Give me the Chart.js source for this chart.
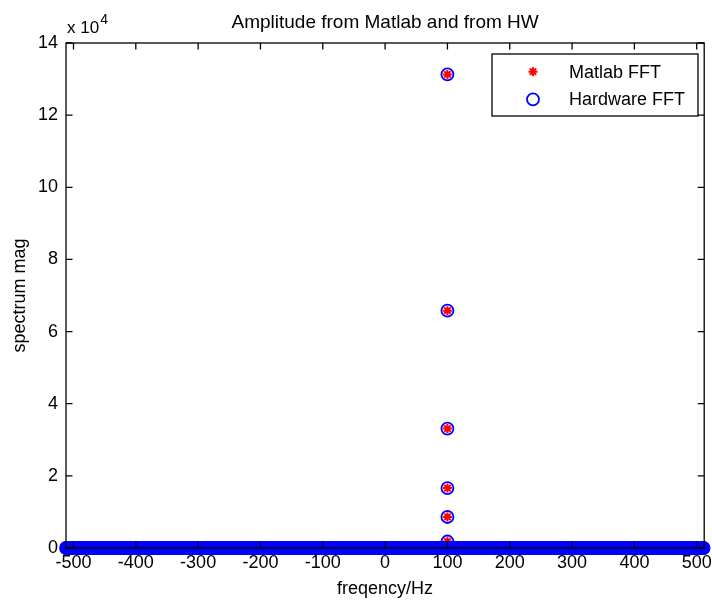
<!DOCTYPE html>
<html>
<head>
<meta charset="utf-8">
<script src="https://cdn.jsdelivr.net/npm/chart.js@4/dist/chart.umd.min.js"></script>
<style>
  html, body { margin: 0; padding: 0; background: #ffffff; }
  canvas { display: block; }
</style>
</head>
<body>
<canvas id="spectrum" width="712" height="604"></canvas>
<script>
// FFT bin grid: 1024-point FFT at 1024 Hz sampling, shifted so 0 Hz is centred
const sampleRate = 1024;
const fftLength = 1024;
const freqBins = Array.from({ length: fftLength }, (_, k) => -sampleRate / 2 + k * sampleRate / fftLength);
// Every bin away from the tone sits on the floor
const floorMag = 0;

// Points stacked at the 100 Hz tone
const peakFreqs     = [100, 100, 100, 100, 100, 100];
const matlabPeakMag = [131300, 65800, 33100, 16600, 8600, 1800];
const hwPeakMag     = [131300, 65800, 33100, 16600, 8600, 1800];

// Axis ticks
const xTickValues = [-500, -400, -300, -200, -100, 0, 100, 200, 300, 400, 500];
const yTickValues = [0, 20000, 40000, 60000, 80000, 100000, 120000, 140000];
const yExponent = 4;

const seriesLabels = ['Matlab FFT', 'Hardware FFT'];
const titleText = 'Amplitude from Matlab and from HW';
const xTitleText = 'freqency/Hz';
const yTitleText = 'spectrum mag';

const FONT = '"Liberation Sans", Arial, Helvetica, sans-serif';

function buildPoints(peaks) {
  const pts = freqBins.map(f => ({ x: f, y: floorMag }));
  peakFreqs.forEach((f, i) => pts.push({ x: f, y: peaks[i] }));
  return pts;
}

const TICK_LEN = 6.5;

// MATLAB-style frame: box on top of markers, inward ticks, labels, legend
const matlabFrame = {
  id: 'matlabFrame',
  afterDatasetsDraw(chart) {
    const { ctx, chartArea: a, scales: { x, y } } = chart;
    ctx.save();
    ctx.strokeStyle = '#000000';
    ctx.lineWidth = 1.3;
    ctx.strokeRect(a.left, a.top, a.right - a.left, a.bottom - a.top);
    ctx.beginPath();
    for (const v of xTickValues) {
      const px = x.getPixelForValue(v);
      ctx.moveTo(px, a.bottom); ctx.lineTo(px, a.bottom - TICK_LEN);
      ctx.moveTo(px, a.top);    ctx.lineTo(px, a.top + TICK_LEN);
    }
    for (const v of yTickValues) {
      const py = y.getPixelForValue(v);
      ctx.moveTo(a.left, py);  ctx.lineTo(a.left + TICK_LEN, py);
      ctx.moveTo(a.right, py); ctx.lineTo(a.right - TICK_LEN, py);
    }
    ctx.stroke();
    ctx.restore();
  },
  afterDraw(chart) {
    const { ctx, chartArea: a } = chart;
    const cx = (a.left + a.right) / 2;
    ctx.save();
    ctx.fillStyle = '#000000';

    // Title
    ctx.font = '19px ' + FONT;
    ctx.textAlign = 'center';
    ctx.textBaseline = 'middle';
    ctx.fillText(titleText, cx, 23);

    // X axis title
    ctx.font = '18px ' + FONT;
    ctx.fillText(xTitleText, cx, 589);

    // Y axis title
    ctx.save();
    ctx.translate(20, (a.top + a.bottom) / 2);
    ctx.rotate(-Math.PI / 2);
    ctx.fillText(yTitleText, 0, 0);
    ctx.restore();

    // Exponent multiplier
    ctx.textAlign = 'left';
    ctx.textBaseline = 'alphabetic';
    ctx.font = '17px ' + FONT;
    const base = 'x 10';
    ctx.fillText(base, a.left + 1, a.top - 10);
    const bw = ctx.measureText(base).width;
    ctx.font = '14px ' + FONT;
    ctx.fillText(String(yExponent), a.left + 2 + bw, a.top - 19);

    // Legend
    const lg = { left: 492, top: 54, right: 698, bottom: 116 };
    ctx.fillStyle = '#ffffff';
    ctx.fillRect(lg.left, lg.top, lg.right - lg.left, lg.bottom - lg.top);
    ctx.strokeStyle = '#000000';
    ctx.lineWidth = 1.3;
    ctx.strokeRect(lg.left, lg.top, lg.right - lg.left, lg.bottom - lg.top);
    const rows = [71.7, 99.3];
    const mx = 533;
    chart.data.datasets.forEach((ds, i) => {
      ctx.strokeStyle = ds.borderColor;
      ctx.fillStyle = ds.backgroundColor;
      ctx.lineWidth = ds.pointBorderWidth;
      Chart.helpers.drawPoint(ctx, {
        pointStyle: ds.pointStyle,
        radius: ds.pointRadius,
        borderWidth: ds.pointBorderWidth,
        rotation: 0
      }, mx, rows[i]);
    });
    ctx.fillStyle = '#000000';
    ctx.font = '18px ' + FONT;
    ctx.textBaseline = 'middle';
    chart.data.datasets.forEach((ds, i) => ctx.fillText(ds.label, 569, rows[i] + 1));
    ctx.restore();
  }
};

new Chart(document.getElementById('spectrum'), {
  type: 'scatter',
  data: {
    datasets: [
      {
        label: seriesLabels[0],
        data: buildPoints(matlabPeakMag),
        pointStyle: 'star',
        pointRadius: 4.5,
        pointBorderWidth: 2,
        borderColor: '#ff0000',
        backgroundColor: '#ff0000',
        clip: false,
        order: 1
      },
      {
        label: seriesLabels[1],
        data: buildPoints(hwPeakMag),
        pointStyle: 'circle',
        pointRadius: 6,
        pointBorderWidth: 1.8,
        borderColor: '#0000ff',
        backgroundColor: 'rgba(0,0,0,0)',
        clip: false,
        order: 0
      }
    ]
  },
  options: {
    responsive: false,
    devicePixelRatio: 1,
    animation: false,
    events: [],
    layout: { padding: { top: 43, right: 4, left: 0, bottom: 0 } },
    plugins: {
      legend: { display: false },
      title: { display: false },
      tooltip: { enabled: false }
    },
    scales: {
      x: {
        type: 'linear',
        min: -512,
        max: 512,
        afterBuildTicks: s => { s.ticks = xTickValues.map(v => ({ value: v })); },
        afterFit: s => { s.height = 56; s.paddingLeft = 0; s.paddingRight = 0; },
        grid: { display: false, drawTicks: false },
        border: { display: false },
        ticks: {
          padding: 4,
          maxRotation: 0,
          autoSkip: false,
          color: '#000000',
          font: { family: FONT, size: 18 },
          callback: v => String(v)
        }
      },
      y: {
        type: 'linear',
        min: 0,
        max: 140000,
        afterBuildTicks: s => { s.ticks = yTickValues.map(v => ({ value: v })); },
        afterFit: s => { s.width = 66; s.paddingTop = 0; s.paddingBottom = 0; },
        grid: { display: false, drawTicks: false },
        border: { display: false },
        ticks: {
          padding: 8,
          autoSkip: false,
          color: '#000000',
          font: { family: FONT, size: 18 },
          callback: v => String(v / Math.pow(10, yExponent))
        }
      }
    }
  },
  plugins: [matlabFrame]
});
</script>
</body>
</html>
